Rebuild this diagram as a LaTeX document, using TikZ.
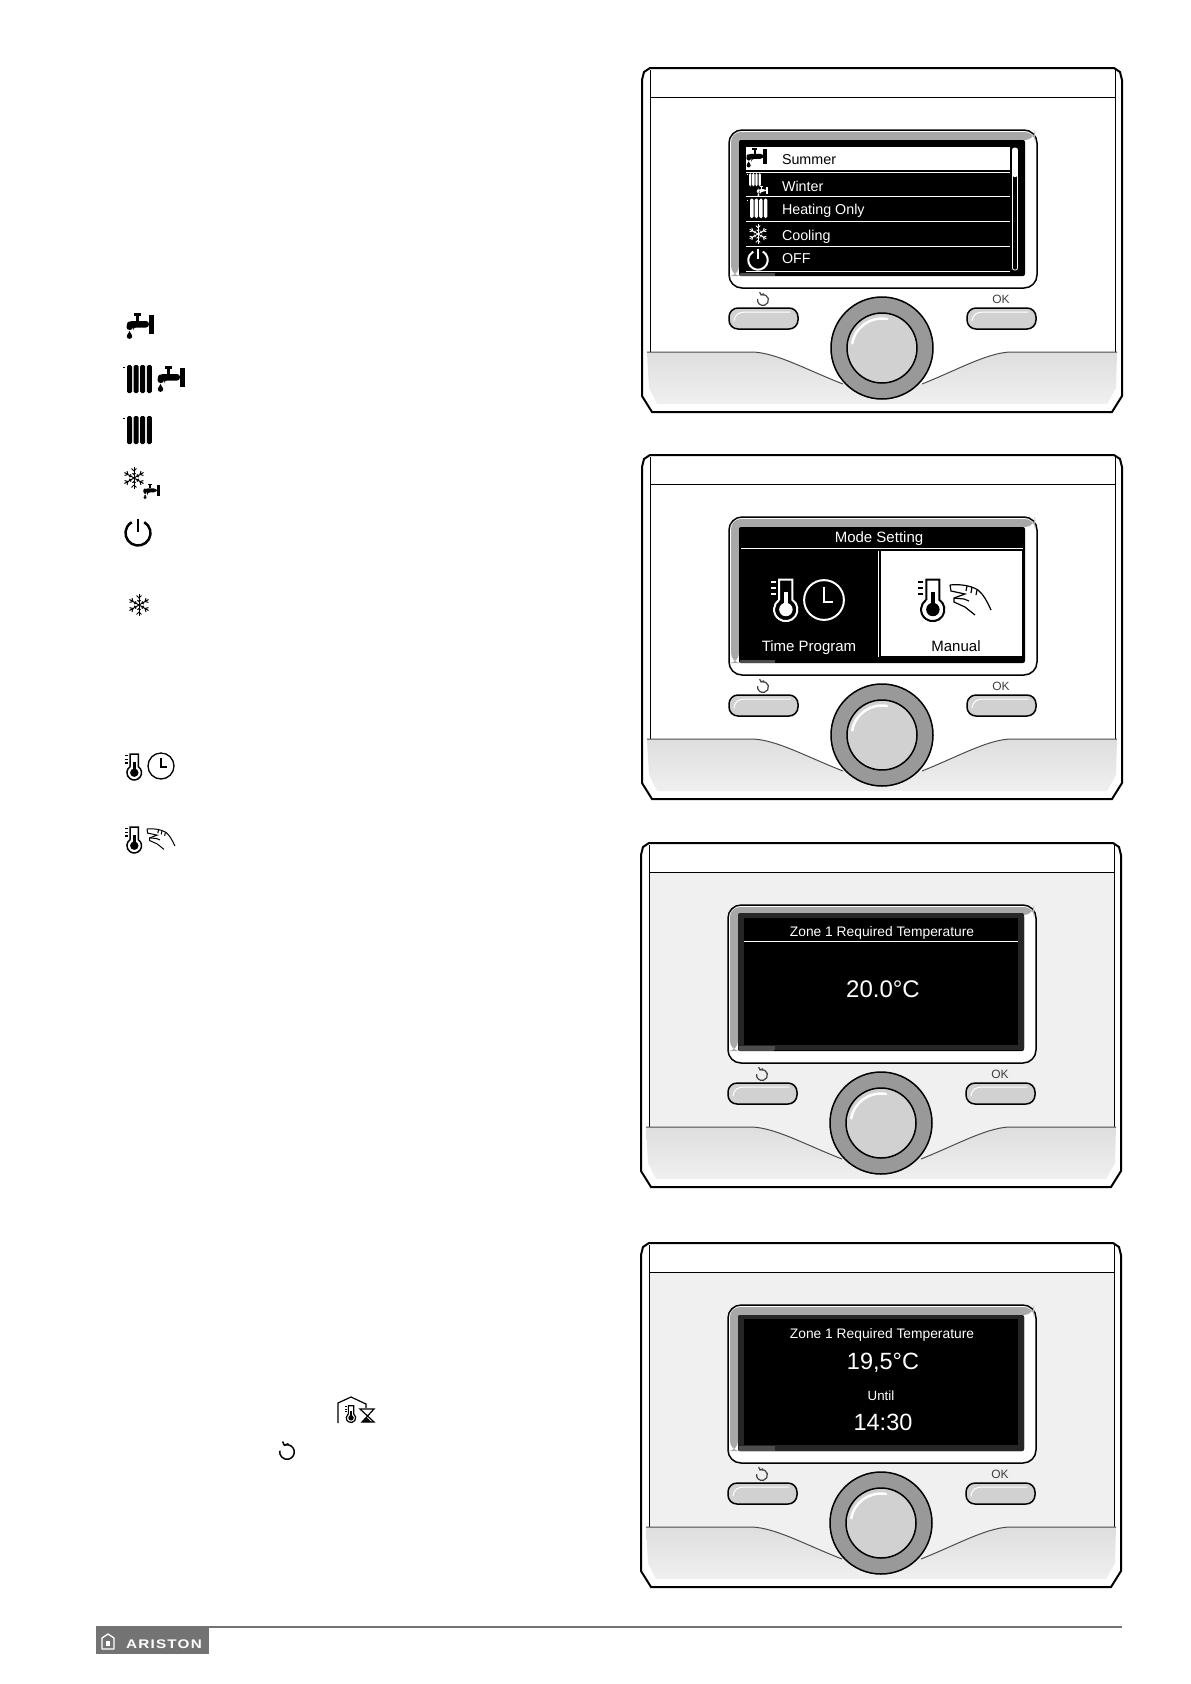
\documentclass[tikz,border=0pt]{standalone}
\usepackage{fontspec}
\setmainfont{Liberation Sans}
\definecolor{bezel}{gray}{0.66}
\definecolor{ringgray}{gray}{0.6}
\definecolor{keygray}{gray}{0.82}
\definecolor{bandgray}{gray}{0.87}
\definecolor{paleface}{gray}{0.94}
\definecolor{logogray}{gray}{0.45}
\newcommand{\sz}[1]{\fontsize{#1}{#1}\selectfont}
\tikzset{
  every pic/.append style={yscale=-1},
  scrtext/.style={text=white,inner sep=0pt,font=\sz{15}},
  listtext/.style={scrtext,anchor=west,font=\sz{14.3}},
  keytext/.style={text=black!75,inner sep=0pt,font=\sz{12}},
  tapicon/.pic={
    \fill (8,1) rectangle (15,3.5);
    \fill (10.3,3) rectangle (13,9);
    \fill (23,3) rectangle (28,22);
    \fill[rounded corners=3pt] (23,9) -- (3,9) -- (0.5,12) -- (0.5,18) -- (7,18) -- (7,15.5) -- (23,15.5) -- cycle;
    \fill (3.5,24.2) circle (2.7);
    \fill (1.5,22.5) -- (3.5,19) -- (5.5,22.5) -- cycle;
  },
  radicon/.pic={
    \foreach \colx in {0,6.6,13.2,19.8}
      \fill[rounded corners=1.5pt] (\colx,0) rectangle ++(5,28);
    \fill (-3.8,1.5) rectangle ++(1.6,1.6);
  },
  flakeicon/.pic={
    \foreach \ang in {30,90,150,210,270,330} {
      \draw (0,0) -- (\ang:11);
      \draw (\ang:7) -- ++(\ang+45:3.5);
      \draw (\ang:7) -- ++(\ang-45:3.5);
      \draw (\ang:3.5) -- ++(\ang+50:2);
      \draw (\ang:3.5) -- ++(\ang-50:2);
    }
  },
  powicon/.pic={
    \draw (-60:12.5) arc (-60:240:12.5);
    \draw (0,-14.5) -- (0,-1);
  },
  backicon/.pic={
    \draw (-105:7.3) arc (-105:190:7.3);
    \draw (-4.5,-10.5) -- (-2.6,-6.8) -- (1.5,-8.3);
  },
  thermicon/.pic={
    \foreach \ticky in {2.3,6.3,10}
      \fill (0,\ticky-0.7) rectangle ++(3.3,1.4);
    \draw (5.15,13.7) -- (5.15,1) -- (13.4,1) -- (13.4,13.7) arc (-55:235:7.3);
    \fill (7.9,9) rectangle (10.7,18);
    \fill (9.3,19.7) circle (4.2);
  },
  clockicon/.pic={
    \draw (0,0) circle (13);
    \draw (0,-8.5) -- (0,1) -- (6,1);
  },
  handicon/.pic={
    \draw (0,0) .. controls (8,-1) and (20,0) .. (28,5) .. controls (33,9) and (37,16) .. (41,25);
    \draw (0,0) -- (1,6) -- (15,9) -- (4,13) -- (4,17) -- (15,22) -- (25,30);
    \draw (4,13) -- (14,14) -- (19,16);
    \draw (17,1) -- (16,6);
    \draw (22,2) -- (21,8);
    \draw (27,5) -- (26,10);
  },
  houseicon/.pic={
    \draw (0,26) -- (0,6) -- (13,0) -- (28,7) -- (28,11);
    \pic[scale=.65] at (7,8) {thermicon};
    \draw (22,12) -- (36,12) -- (24,25) -- (36,25) -- cycle;
    \fill (24.5,25) -- (29,20.5) -- (33.5,25) -- cycle;
  },
  unitbody/.pic={
    \draw[line width=2pt,fill=white] (8,0) -- (472,0) -- (478,4) -- (480,12) -- (480,328) -- (470,344) -- (10,344) -- (0,328) -- (0,12) -- (2,4) -- cycle;
    \fill[#1] (8,29) rectangle (473,316);
    \draw[line width=1pt] (8,29) -- (473,29);
    \draw[line width=1pt] (8,2) -- (8,284);
    \draw[line width=1pt] (473,2) -- (473,284);
    % lower band
    \path[top color=bandgray,bottom color=paleface] (5,284) -- (111,284) .. controls (135,285) and (165,302) .. (201,316) -- (280,316) .. controls (315,302) and (345,285) .. (368,284) -- (475,284) -- (474,320) -- (465,336) -- (15,336) -- (7,320) -- cycle;
    \draw[line width=1pt,black!70] (5,284) -- (111,284) .. controls (135,285) and (165,302) .. (201,316);
    \draw[line width=1pt,black!70] (280,316) .. controls (315,302) and (345,285) .. (368,284) -- (475,284);
    % screen frame
    \draw[line width=1.5pt,fill=white,rounded corners=13pt] (87,62) rectangle (395,220);
    \fill[bezel,rounded corners=10pt] (89,64) -- (393,64) -- (393,72) -- (97,72) -- (97,208) -- (89,208) -- cycle;
    \fill[black,rounded corners=2pt] (97,72) rectangle (383,208);
    \fill[black!70] (98,205) rectangle (133,207.5);
    % keys
    \draw[line width=1.5pt,fill=keygray,rounded corners=9pt] (87,240) rectangle (156,261);
    \draw[line width=1.5pt,fill=keygray,rounded corners=9pt] (325,240) rectangle (394,261);
    \draw[line width=1pt,white,line cap=round] (92,253) .. controls (93,246) and (97,244) .. (104,244) -- (148,244);
    \draw[line width=1pt,white,line cap=round] (330,253) .. controls (331,246) and (335,244) .. (342,244) -- (386,244);
    \pic[line width=1.2pt,color=black!75,scale=.75] at (121,232) {backicon};
    \node[keytext] (oktext) at (359,231) {OK};
    % dial
    \draw[line width=1.5pt,fill=ringgray] (240,280) circle (51);
    \draw[line width=1.5pt,fill=keygray] (240,280) circle (35);
    \draw[line width=2.5pt,white,line cap=round] (245,251) arc (-80:-170:30);
  }
}
\begin{document}
\begin{tikzpicture}[x=1pt,y=1pt,yscale=-1,line width=1pt]
\path[use as bounding box,fill=white] (0,0) rectangle (1191,1684);
% left column icons
\pic at (126,312) {tapicon};
\pic at (127,365) {radicon};
\pic at (157,365) {tapicon};
\pic at (127,416) {radicon};
\pic[line width=1pt] at (134,478) {flakeicon};
\pic[scale=.6] at (143,483) {tapicon};
\pic[line width=2.5pt] at (138,533) {powicon};
\pic[line width=1pt] at (139,605) {flakeicon};
\pic[line width=1.5pt] at (125,753) {thermicon};
\pic[line width=1.3pt] at (161,766) {clockicon};
\pic[line width=1.5pt] at (125,826) {thermicon};
\pic[line width=1pt,scale=.68] at (147,829) {handicon};
\pic[line width=1.2pt] at (338,1397) {houseicon};
\pic[line width=1.5pt] at (287,1452) {backicon};
% unit 1
\begin{scope}[shift={(642,68)}]
  \pic {unitbody=white};
  \fill[white] (104,79) rectangle (368,102);
  \foreach \liney in {104,128.3,153.7,178.7,203.7}
    \draw[white,line width=.8pt] (104,\liney) -- (368,\liney);
  \draw[white,line width=.8pt,rounded corners=2pt] (370.5,80) rectangle (375.5,202);
  \fill[white,rounded corners=2pt] (370.5,80) rectangle (375.5,109);
  \node[listtext,text=black] (summer) at (139.5,92) {Summer};
  \node[listtext] (winter) at (139.5,118) {Winter};
  \node[listtext] (heating) at (139.5,143) {Heating Only};
  \node[listtext] (cooling) at (139.5,169) {Cooling};
  \node[listtext] (off) at (139.5,191) {OFF};
  \pic[scale=.76,color=black] at (104,79) {tapicon};
  \pic[scale=.48,color=white] at (107,105) {radicon};
  \pic[scale=.4,color=white] at (115,117.5) {tapicon};
  \pic[scale=.7,color=white] at (108,130.5) {radicon};
  \pic[line width=.9pt,color=white,scale=.88] at (116,166) {flakeicon};
  \pic[line width=2pt,color=white,scale=.78] at (116,192) {powicon};
\end{scope}
% unit 2
\begin{scope}[shift={(642,455)}]
  \pic {unitbody=white};
  \draw[white] (99,93.3) -- (381,93.3);
  \fill[white] (238.7,96) rectangle (380,201);
  \draw[white,line width=.6pt] (236.3,96) -- (236.3,202);
  \node[scrtext] (modeset) at (237,84) {Mode Setting};
  \node[scrtext] (timeprog) at (167,193) {Time Program};
  \node[scrtext,text=black] (manual) at (314,191) {Manual};
  \pic[scale=1.6,color=white,line width=2pt] at (129,123) {thermicon};
  \pic[scale=1.53,color=white,line width=2pt] at (182,145) {clockicon};
  \pic[scale=1.6,color=black,line width=2pt] at (276,123) {thermicon};
  \pic[color=black,line width=1.2pt] at (308,130) {handicon};
\end{scope}
% unit 3
\begin{scope}[shift={(641,843)}]
  \pic {unitbody=paleface};
  \fill[black!85!white,rounded corners=2pt] (97,70) rectangle (383,207);
  \fill[black!70] (98,203) rectangle (134,207);
  \fill[black] (103,75) rectangle (377,202);
  \draw[white,line width=.7pt] (103,98) -- (377,98);
  \node[scrtext,font=\sz{13.8}] (zoneone) at (241,90) {Zone 1 Required Temperature};
  \node[scrtext,font=\sz{24}] (tempval) at (242,146) {20.0°C};
\end{scope}
% unit 4
\begin{scope}[shift={(641,1243)}]
  \pic {unitbody=paleface};
  \fill[black!85!white,rounded corners=2pt] (97,72) rectangle (383,208);
  \fill[black!70] (98,203) rectangle (134,208);
  \fill[black] (103,76) rectangle (377,202);
  \node[scrtext,font=\sz{13.8}] (zonetwo) at (241,92) {Zone 1 Required Temperature};
  \node[scrtext,font=\sz{23.5}] (setval) at (242,119.5) {19,5°C};
  \node[scrtext,font=\sz{13.3}] (until) at (240,153) {Until};
  \node[scrtext,font=\sz{23.5}] (timeval) at (242,179) {14:30};
\end{scope}
% footer
\draw[logogray,line width=1.5pt] (96,1627) -- (1122,1627);
\fill[logogray] (96,1626) rectangle (209,1654);
\draw[white,line width=1.3pt,line join=round] (102,1649) -- (102,1638) -- (108,1634) -- (114,1638) -- (114,1649) -- cycle;
\fill[white] (106,1641) rectangle (110,1646);
\node[text=white,inner sep=0pt,font=\bfseries\sz{12.5}] (brand) at (164,1644) {\scalebox{1.22}[1]{\addfontfeature{LetterSpace=8}ARISTON}};
\end{tikzpicture}
\end{document}
